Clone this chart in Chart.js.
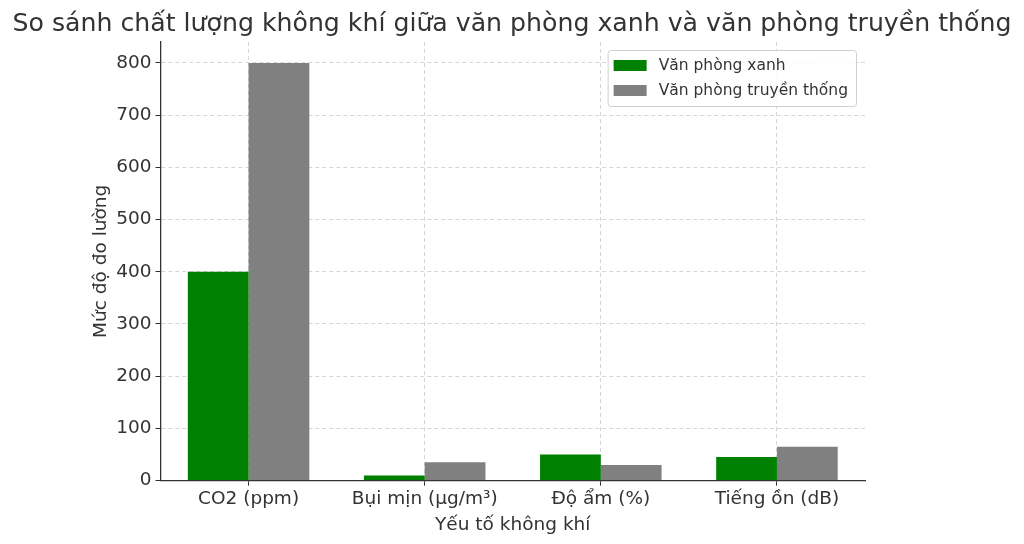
<!DOCTYPE html>
<html>
<head>
<meta charset="utf-8">
<script src="https://cdn.jsdelivr.net/npm/chart.js@4/dist/chart.umd.min.js"></script>
<style>
  html, body { margin: 0; padding: 0; background: #fff; }
  #wrap { width: 1024px; height: 544px; position: relative; }
</style>
</head>
<body>
<div id="wrap"><canvas id="chart"></canvas></div>
<script>
// Dữ liệu
const categories = ['CO2 (ppm)', 'Bụi mịn (µg/m³)', 'Độ ẩm (%)', 'Tiếng ồn (dB)'];
const greenOffice = [400, 10, 50, 45];
const traditionalOffice = [800, 35, 30, 65];
const seriesNames = ['Văn phòng xanh', 'Văn phòng truyền thống'];
const chartTitle = 'So sánh chất lượng không khí giữa văn phòng xanh và văn phòng truyền thống';

const FONT = "'DejaVu Sans', sans-serif";
const TEXT = '#333333';

// tiêu đề vẽ tay để không bị ép theo bề rộng vùng layout
const wideTitle = {
    id: 'wideTitle',
    afterDraw(chart) {
        const ctx = chart.ctx;
        ctx.save();
        ctx.font = '25.2px ' + FONT;
        ctx.fillStyle = TEXT;
        ctx.textAlign = 'center';
        ctx.textBaseline = 'middle';
        ctx.fillText(chartTitle, chart.width / 2, 24);
        ctx.restore();
    }
};

// legend vẽ tay, nằm trong vùng vẽ ở góc trên bên phải (giống matplotlib)
const innerLegend = {
    id: 'innerLegend',
    afterDraw(chart) {
        const ctx = chart.ctx;
        const area = chart.chartArea;
        const sets = chart.data.datasets;
        ctx.save();
        ctx.font = '15.5px ' + FONT;
        const textW = Math.max(...sets.map(d => ctx.measureText(d.label).width));
        const w = 5 + 33 + 12 + textW + 9;
        const h = 56;
        const x = area.right - 9 - w;
        const y = area.top + 8;
        ctx.fillStyle = 'rgba(255,255,255,0.85)';
        ctx.strokeStyle = '#d0d0d0';
        ctx.lineWidth = 1;
        ctx.beginPath();
        ctx.roundRect(x + 0.5, y + 0.5, w, h, 3);
        ctx.fill();
        ctx.stroke();
        sets.forEach((d, i) => {
            const cy = y + 15 + i * 25;
            ctx.fillStyle = d.backgroundColor;
            ctx.fillRect(x + 6, cy - 5, 33, 11);
            ctx.fillStyle = TEXT;
            ctx.textBaseline = 'middle';
            ctx.fillText(d.label, x + 51, cy + 1);
        });
        ctx.restore();
    }
};

new Chart(document.getElementById('chart'), {
    type: 'bar',
    data: {
        labels: categories,
        datasets: [
            { label: seriesNames[0], data: greenOffice, backgroundColor: '#008000' },
            { label: seriesNames[1], data: traditionalOffice, backgroundColor: '#808080' }
        ]
    },
    options: {
        responsive: true,
        maintainAspectRatio: false,
        animation: false,
        layout: { padding: { left: 78, right: 159, top: 42, bottom: 4 } },
        datasets: { bar: { categoryPercentage: 0.69, barPercentage: 1.0 } },
        plugins: {
            legend: { display: false },
            tooltip: { enabled: false },
            title: { display: false }
        },
        scales: {
            x: {
                grid: { offset: false, color: '#d5d5d5', tickColor: TEXT, tickLength: 5 },
                border: { color: TEXT, width: 1.3, dash: [4, 3] },
                ticks: { color: TEXT, font: { family: FONT, size: 18.5 }, padding: 2 },
                title: {
                    display: true, text: 'Yếu tố không khí', color: TEXT,
                    font: { family: FONT, size: 18.5 }, padding: { top: 2 }
                }
            },
            y: {
                min: 0,
                max: 840,
                grid: { color: '#d5d5d5', tickColor: TEXT, tickLength: 5 },
                border: { color: TEXT, width: 1.3, dash: [4, 3] },
                ticks: { stepSize: 100, includeBounds: false, color: TEXT, font: { family: FONT, size: 18.5 }, padding: 4 },
                title: {
                    display: true, text: 'Mức độ đo lường', color: TEXT,
                    font: { family: FONT, size: 18.5 }, padding: { top: 12, bottom: 0 }
                }
            }
        }
    },
    plugins: [wideTitle, innerLegend]
});
</script>
</body>
</html>
